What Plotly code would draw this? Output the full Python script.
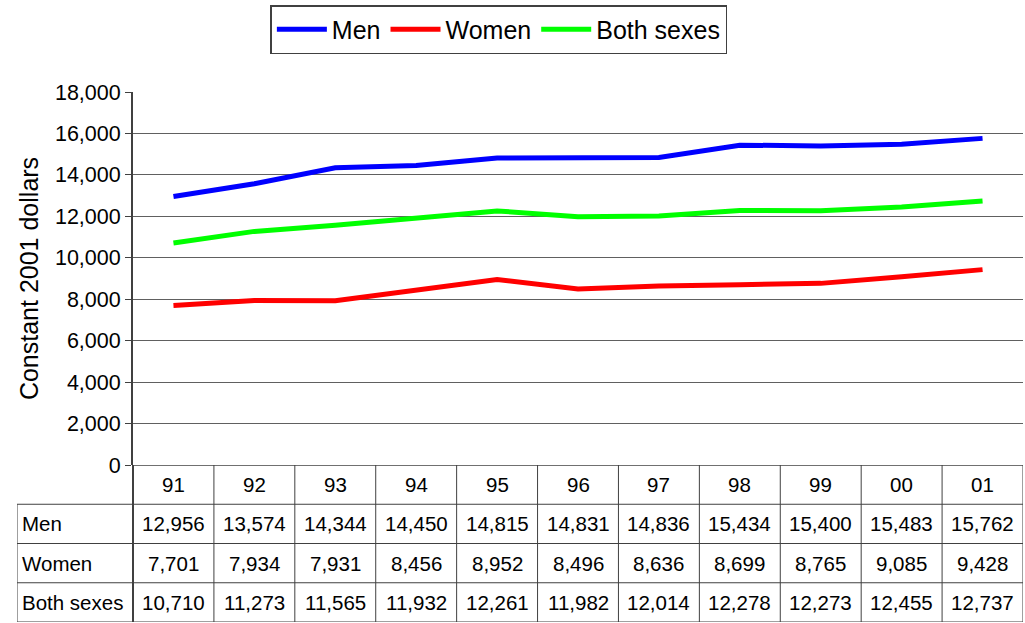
import plotly.graph_objects as go

years = ["91", "92", "93", "94", "95", "96", "97", "98", "99", "00", "01"]
men = [12956, 13574, 14344, 14450, 14815, 14831, 14836, 15434, 15400, 15483, 15762]
women = [7701, 7934, 7931, 8456, 8952, 8496, 8636, 8699, 8765, 9085, 9428]
both = [10710, 11273, 11565, 11932, 12261, 11982, 12014, 12278, 12273, 12455, 12737]

series = [("Men", men, "#0000FF"), ("Women", women, "#FF0000"), ("Both sexes", both, "#00FF00")]

FONT = "Liberation Sans, Arial, sans-serif"
W, H = 1025, 623
ML, MR, MT, MB = 17, 2, 92, 1
plot_w = W - ML - MR
plot_h = H - MT - MB
axis_left_px = 133
axis_bottom_px = 465

x_dom0 = (axis_left_px - ML) / plot_w
y_dom0 = (H - MB - axis_bottom_px) / plot_h

n = len(years)
cell_w = (W - MR - axis_left_px) / n
label_w = (axis_left_px - ML) / cell_w
x_left = -0.5 - label_w

fig = go.Figure()
xs = list(range(n))
for name, vals, color in series:
    fig.add_trace(go.Scatter(
        x=xs, y=vals, name=name, mode="lines",
        line=dict(color=color, width=5),
        xaxis="x", yaxis="y",
    ))

# data table below the plot: rows counted from bottom (0 = Both sexes ... 3 = header)
shapes = []
line_c = "#404040"
for r in [0, 1, 2, 3]:
    shapes.append(dict(type="line", xref="x2", yref="y2", x0=x_left, x1=n - 0.5, y0=r, y1=r,
                       line=dict(color=line_c, width=1)))
shapes.append(dict(type="line", xref="x2", yref="y2", x0=-0.5, x1=n - 0.5, y0=4, y1=4,
                   line=dict(color=line_c, width=1.5)))
for i in range(n + 1):
    shapes.append(dict(type="line", xref="x2", yref="y2", x0=i - 0.5, x1=i - 0.5, y0=0, y1=4,
                       line=dict(color=line_c, width=2 if i == 0 else 1)))
shapes.append(dict(type="line", xref="x2", yref="y2", x0=x_left, x1=x_left, y0=0, y1=3,
                   line=dict(color=line_c, width=1)))

TABLE_SIZE = 20.5
annotations = []
for i, yr in enumerate(years):
    annotations.append(dict(xref="x2", yref="y2", x=i, y=3.5, text=yr, showarrow=False,
                            font=dict(family=FONT, size=TABLE_SIZE, color="black")))
for r, (name, vals, _) in zip([2.5, 1.5, 0.5], series):
    annotations.append(dict(xref="x2", yref="y2", x=x_left, y=r, text=name, showarrow=False,
                            xanchor="left", xshift=3, font=dict(family=FONT, size=TABLE_SIZE, color="black")))
    for i, v in enumerate(vals):
        annotations.append(dict(xref="x2", yref="y2", x=i, y=r, text=f"{v:,}", showarrow=False,
                                font=dict(family=FONT, size=TABLE_SIZE, color="black")))

fig.update_layout(
    width=W, height=H,
    margin=dict(l=ML, r=MR, t=MT, b=MB, autoexpand=False),
    paper_bgcolor="white", plot_bgcolor="white",
    font=dict(family=FONT, color="black"),
    showlegend=True,
    legend=dict(
        orientation="h", x=0.479, xanchor="center", y=(H - MB - 5) / plot_h, yanchor="top",
        bordercolor="#404040", borderwidth=1.5, bgcolor="white",
        font=dict(family=FONT, size=25, color="black"),
        itemwidth=50, tracegroupgap=0,
    ),
    xaxis=dict(domain=[x_dom0, 1], range=[-0.5, n - 0.5], showticklabels=False, showgrid=False,
               zeroline=False, showline=False, ticks="", fixedrange=True),
    yaxis=dict(domain=[y_dom0, 1], range=[0, 18000], dtick=2000, tickformat=",",
               showgrid=True, gridcolor="#606060", gridwidth=1, zeroline=False,
               showline=True, linecolor="#404040", linewidth=2,
               ticks="outside", ticklen=6, tickcolor="#404040",
               tickfont=dict(family=FONT, size=21.5, color="black"),
               title=dict(text="Constant 2001 dollars", font=dict(family=FONT, size=25, color="black"),
                          standoff=9)),
    xaxis2=dict(domain=[0, 1], range=[x_left, n - 0.5], visible=False, anchor="y2"),
    yaxis2=dict(domain=[0, y_dom0], range=[0, 4], visible=False, anchor="x2"),
    shapes=shapes,
    annotations=annotations,
)

fig.write_html("out.html")
